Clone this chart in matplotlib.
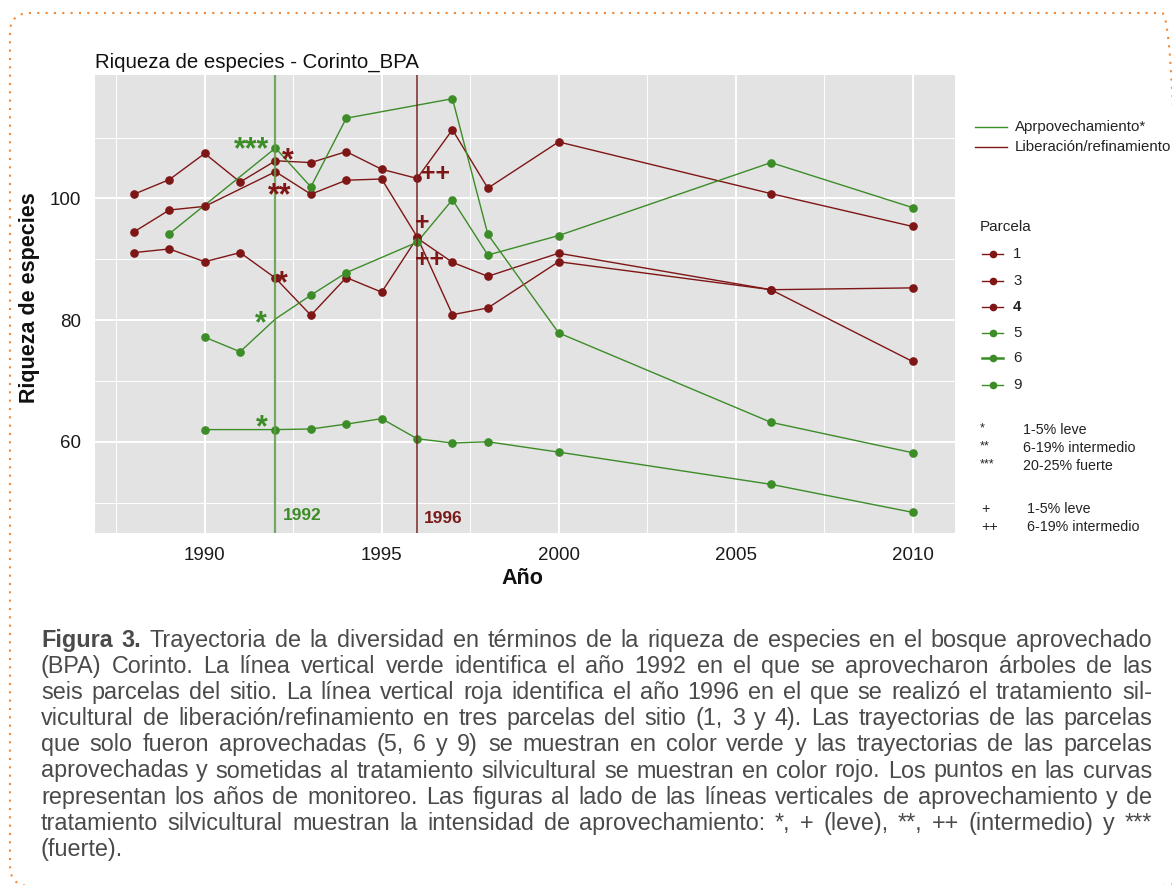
import matplotlib
matplotlib.use("Agg")
import matplotlib.pyplot as plt
from matplotlib.lines import Line2D
from matplotlib.patches import FancyBboxPatch
from matplotlib.transforms import IdentityTransform
from matplotlib.ticker import MultipleLocator, FixedLocator

plt.rcParams["font.family"] = ["Liberation Sans", "DejaVu Sans"]

W, H = 1172, 885

# parcela series (year, riqueza)
years_1 = [1988, 1989, 1990, 1991, 1992, 1993, 1994, 1995, 1996, 1997, 1998, 2000, 2006, 2010]
rich_1 = [100.7, 103.1, 107.4, 102.7, 106.2, 105.9, 107.7, 104.8, 103.3, 111.3, 101.7, 109.3, 100.8, 95.4]
years_3 = [1988, 1989, 1990, 1992, 1993, 1994, 1995, 1996, 1997, 1998, 2000, 2006, 2010]
rich_3 = [94.5, 98.1, 98.7, 104.4, 100.7, 103.0, 103.2, 93.7, 80.9, 82.0, 89.6, 85.0, 73.2]
years_4 = [1988, 1989, 1990, 1991, 1992, 1993, 1994, 1995, 1996, 1997, 1998, 2000, 2006, 2010]
rich_4 = [91.1, 91.7, 89.6, 91.1, 86.9, 80.8, 87.0, 84.6, 93.5, 89.5, 87.2, 91.0, 85.0, 85.3]
years_5 = [1989, 1992, 1993, 1994, 1997, 1998, 2000, 2006, 2010]
rich_5 = [94.2, 108.3, 101.9, 113.2, 116.4, 94.1, 77.9, 63.2, 58.2]
years_6 = [1990, 1991, 1992, 1993, 1994, 1996, 1997, 1998, 2000, 2006, 2010]
rich_6 = [77.2, 74.8, 80.2, 84.1, 87.8, 92.8, 99.8, 90.7, 93.9, 105.9, 98.5]
years_9 = [1990, 1992, 1993, 1994, 1995, 1996, 1997, 1998, 2000, 2006, 2010]
rich_9 = [62.0, 62.0, 62.1, 62.9, 63.8, 60.5, 59.8, 60.0, 58.3, 53.0, 48.4]

parcelas = ["1", "3", "4", "5", "6", "9"]
RED = "#7F1616"
GREEN = "#3C8C28"
series = [
    (years_1, rich_1, RED, None),
    (years_3, rich_3, RED, None),
    (years_4, rich_4, RED, None),
    (years_5, rich_5, GREEN, None),
    (years_6, rich_6, GREEN, [0, 1, 3, 4, 5, 6, 7, 8, 9, 10]),
    (years_9, rich_9, GREEN, None),
]

year_aprov, year_lib = 1992, 1996
y_ticks = [60, 80, 100]
y_minor = [50, 70, 90, 110]

# intensity marks: (text, year, baseline value, colour)
marks = [
    ("***", 1991.33, 106.6, GREEN),
    ("*", 1992.34, 104.8, RED),
    ("**", 1992.12, 99.1, RED),
    ("*", 1992.18, 84.6, RED),
    ("*", 1991.58, 78.0, GREEN),
    ("*", 1991.61, 60.9, GREEN),
    ("++", 1996.53, 102.8, RED),
    ("+", 1996.16, 94.8, RED),
    ("++", 1996.36, 88.7, RED),
]

caption_lines = [
    "Trayectoria de la diversidad en términos de la riqueza de especies en el bosque aprovechado",
    "(BPA) Corinto. La línea vertical verde identifica el año 1992 en el que se aprovecharon árboles de las",
    "seis parcelas del sitio. La línea vertical roja identifica el año 1996 en el que se realizó el tratamiento sil-",
    "vicultural de liberación/refinamiento en tres parcelas del sitio (1, 3 y 4). Las trayectorias de las parcelas",
    "que solo fueron aprovechadas (5, 6 y 9) se muestran en color verde y las trayectorias de las parcelas",
    "aprovechadas y sometidas al tratamiento silvicultural se muestran en color rojo. Los puntos en las curvas",
    "representan los años de monitoreo. Las figuras al lado de las líneas verticales de aprovechamiento y de",
    "tratamiento silvicultural muestran la intensidad de aprovechamiento: *, + (leve), **, ++ (intermedio) y ***",
    "(fuerte).",
]


def P(x, y):
    return x / W, 1 - y / H


fig = plt.figure(figsize=(W / 100, H / 100), dpi=100)
fig.patch.set_facecolor("white")

x0, x1, y0, y1 = 95, 955, 75, 533
ax = fig.add_axes([x0 / W, 1 - y1 / H, (x1 - x0) / W, (y1 - y0) / H])
ax.set_facecolor("#E3E3E3")
for s in ax.spines.values():
    s.set_visible(False)
ax.set_xlim(1986.9, 2011.2)
ax.set_ylim(45.0, 120.3)
ax.xaxis.set_major_locator(MultipleLocator(5))
ax.xaxis.set_minor_locator(MultipleLocator(2.5))
ax.yaxis.set_major_locator(FixedLocator(y_ticks))
ax.yaxis.set_minor_locator(FixedLocator(y_minor))
ax.grid(which="major", color="white", lw=1.4)
ax.grid(which="minor", color="white", lw=0.7)
ax.set_axisbelow(True)
ax.tick_params(which="both", length=0)
ax.tick_params(axis="x", labelsize=13.5, labelcolor="#1a1a1a", pad=10)
ax.tick_params(axis="y", labelsize=13.5, labelcolor="#1a1a1a", pad=10)

for yrs, vals, col, mk in series:
    ax.plot(yrs, vals, color=col, lw=1.0, zorder=3)
    ax.plot(yrs, vals, ls="none", marker="o", ms=5.2, color=col,
            markevery=mk, zorder=4)

ax.axvline(year_aprov, color="#5E9E4A", lw=1.6, alpha=0.85, zorder=5)
ax.axvline(year_lib, color="#7A2424", lw=1.2, alpha=0.9, zorder=5)

for txt, xx, yy, col in marks:
    size = 22 if "*" in txt else 18
    ax.text(xx, yy, txt, color=col, fontsize=size, fontweight="bold",
            ha="center", va="baseline", zorder=6)

ax.text(1992.2, 47.1, "1992", color=GREEN, fontsize=12.5, fontweight="bold",
        ha="left", va="baseline", zorder=6)
ax.text(1996.2, 46.6, "1996", color="#7A1A1A", fontsize=12.5, fontweight="bold",
        ha="left", va="baseline", zorder=6)

fig.text(*P(95, 62), "Riqueza de especies - Corinto_BPA", fontsize=14.7,
         color="#111111", ha="left", va="center")
fig.text(*P(30, 298), "Riqueza de especies", fontsize=15.5, fontweight="bold",
         rotation=90, ha="center", va="center", color="#111111")
fig.text(*P(522, 578), "Año", fontsize=15.5, fontweight="bold",
         ha="center", va="center", color="#111111")

# legend: vertical lines
for yy, col, lab in [(127, GREEN, "Aprpovechamiento*"),
                     (147, RED, "Liberación/refinamiento")]:
    fig.add_artist(Line2D([975 / W, 1007 / W], [1 - yy / H] * 2, color=col, lw=1.0))
    fig.text(*P(1015, yy), lab, fontsize=10.8, ha="left", va="center", color="#222222")

# legend: parcela
fig.text(*P(980, 227), "Parcela", fontsize=11, ha="left", va="center", color="#222222")
key_y = [254, 281, 307, 333, 358, 385]
key_col = [RED, RED, RED, GREEN, GREEN, GREEN]
for lab, yy, col in zip(parcelas, key_y, key_col):
    lw = 1.8 if lab == "6" else 1.0
    fig.add_artist(Line2D([982 / W, 1003 / W], [1 - yy / H] * 2, color=col, lw=lw))
    fig.add_artist(Line2D([993 / W], [1 - yy / H], color=col, marker="o", ms=4.5))
    fig.text(*P(1013, yy), lab, fontsize=10.8, ha="left", va="center", color="#222222",
             fontweight="bold" if lab == "4" else "normal")

# legend: intensity
for sym, txt, yy in [("*", "1-5% leve", 430), ("**", "6-19% intermedio", 448),
                     ("***", "20-25% fuerte", 466)]:
    fig.text(*P(980, yy - 2), sym, fontsize=9, ha="left", va="center", color="#222222")
    fig.text(*P(1023, yy), txt, fontsize=10.3, ha="left", va="center", color="#222222")
for sym, txt, yy in [("+", "1-5% leve", 509), ("++", "6-19% intermedio", 527)]:
    fig.text(*P(981, yy), sym, fontsize=10.3, ha="left", va="center", color="#222222")
    fig.text(*P(1027, yy), txt, fontsize=10.3, ha="left", va="center", color="#222222")

# caption, justified
renderer = fig.canvas.get_renderer()
cap_left, cap_right = 41, 1152
cap_size, cap_col = 16.8, "#4A4A4A"
for i, line in enumerate(caption_lines):
    base_y = 647 + i * 26.1
    words = line.split(" ")
    weights = ["normal"] * len(words)
    if i == 0:
        words = ["Figura", "3."] + words
        weights = ["bold", "bold"] + weights
    arts = []
    for w_, wt in zip(words, weights):
        t = fig.text(0, 1 - base_y / H, w_, fontsize=cap_size, color=cap_col,
                     fontweight=wt, ha="left", va="baseline")
        arts.append(t)
    widths = [a.get_window_extent(renderer).width for a in arts]
    if i < len(caption_lines) - 1:
        gap = (cap_right - cap_left - sum(widths)) / (len(words) - 1)
    else:
        gap = 5.5
    xx = cap_left
    for a, wd in zip(arts, widths):
        a.set_x(xx / W)
        xx += wd + gap

# dotted frame (right side falls just outside the picture)
frame = FancyBboxPatch((10, -1), 1172, 873, boxstyle="round,pad=0,rounding_size=20",
                       transform=IdentityTransform(), fill=False, ec="#F08A3A",
                       lw=1.5, ls=(0, (1, 3)))
fig.add_artist(frame)

fig.savefig("out.png", dpi=100)
